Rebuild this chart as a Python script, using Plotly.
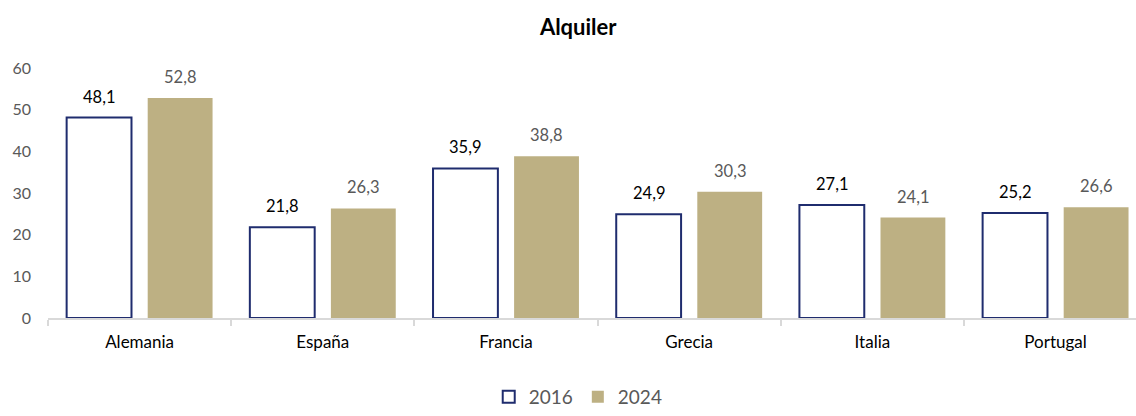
import plotly.graph_objects as go

categories = ["Alemania", "España", "Francia", "Grecia", "Italia", "Portugal"]
values_2016 = [48.1, 21.8, 35.9, 24.9, 27.1, 25.2]
values_2024 = [52.8, 26.3, 38.8, 30.3, 24.1, 26.6]
y_ticks = [0, 10, 20, 30, 40, 50, 60]

FONT = "Lato, Carlito, Calibri, sans-serif"
NAVY = "#1F2C6E"
TAN = "#BDB083"
GRAY = "#595959"

fig = go.Figure()
fig.add_trace(go.Bar(
    name="2016", x=categories, y=values_2016,
    marker=dict(color="white", line=dict(color=NAVY, width=2)),
    hoverinfo="x+y",
))
fig.add_trace(go.Bar(
    name="2024", x=categories, y=values_2024,
    marker=dict(color=TAN, line=dict(color=TAN, width=0)),
    hoverinfo="x+y",
))

def fmt(v):
    return f"{v:.1f}".replace(".", ",")

annotations = []
for c, v in zip(categories, values_2016):
    annotations.append(dict(x=c, y=v, xref="x", yref="y", text=fmt(v), showarrow=False,
                            xshift=-40.5, yshift=21, font=dict(family=FONT, size=16.5, color="black")))
for c, v in zip(categories, values_2024):
    annotations.append(dict(x=c, y=v, xref="x", yref="y", text=fmt(v), showarrow=False,
                            xshift=40.5, yshift=21, font=dict(family=FONT, size=16.5, color=GRAY)))

fig.update_layout(
    width=1136, height=416,
    margin=dict(l=48, r=0, t=68, b=98, autoexpand=False),
    paper_bgcolor="white", plot_bgcolor="white",
    barmode="group", bargap=0.115, bargroupgap=0.2,
    title=dict(text="<b>Alquiler</b>", x=0.509, xref="container", xanchor="center",
               y=0.935, yref="container", yanchor="middle",
               font=dict(family=FONT, size=22, color="black")),
    font=dict(family=FONT, size=15, color=GRAY),
    showlegend=True,
    legend=dict(orientation="h", x=0.509, xref="container", xanchor="center",
                y=0.0, yref="container", yanchor="bottom",
                font=dict(family=FONT, size=19, color=GRAY),
                itemwidth=30, tracegroupgap=0),
    annotations=annotations,
)
fig.update_xaxes(
    range=[-0.5, 5.439], showgrid=False, showline=True, linecolor="#D9D9D9", linewidth=1.5,
    ticks="outside", tickson="boundaries", ticklen=6, tickcolor="#D9D9D9", tickwidth=1.5,
    ticklabelstandoff=8, automargin=False,
    tickfont=dict(family=FONT, size=17, color="black"), fixedrange=True,
)
fig.update_yaxes(
    range=[0, 60], tickvals=y_ticks, showgrid=False, showline=False, zeroline=False,
    ticks="", ticklabelstandoff=16, automargin=False,
    tickfont=dict(family=FONT, size=16, color=GRAY),
)

fig.write_html("out.html", config={"displayModeBar": False},
               post_script="document.body.style.margin='0';document.body.style.overflow='hidden';")
